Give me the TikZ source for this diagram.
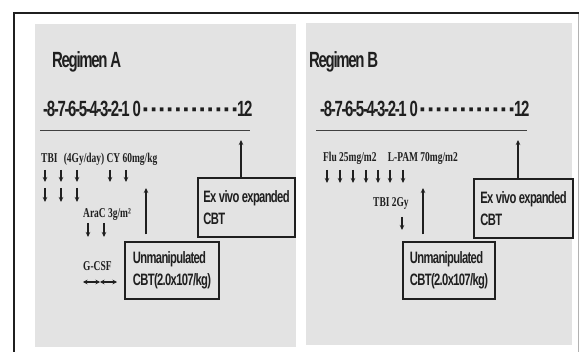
\documentclass[tikz,border=0pt]{standalone}
\usepackage{fontspec}
\usetikzlibrary{arrows.meta}
\newfontfamily\ttlfont[FakeStretch=0.68,LetterSpace=-6]{Liberation Sans Bold}
\newfontfamily\dotfont{Liberation Sans Bold}
\newfontfamily\bxfont[FakeStretch=0.68,LetterSpace=-4]{Liberation Sans Bold}
\newfontfamily\lbfont[FakeStretch=0.7]{Liberation Serif}
\definecolor{panel}{gray}{0.89}
\definecolor{ink}{gray}{0.12}
\begin{document}
\begin{tikzpicture}[x=1pt,y=-1pt,
  ttl/.style={anchor=base west,inner sep=0pt,text=ink,font=\ttlfont\fontsize{22}{24}\selectfont},
  dotrow/.style={anchor=base west,inner sep=0pt,text=ink,font=\dotfont\fontsize{26}{30}\selectfont},
  lab/.style={anchor=base west,inner sep=0pt,text=ink,font=\lbfont\bfseries\fontsize{13.5}{15}\selectfont},
  cbox/.style={draw=ink,line width=1.2pt,align=left,inner sep=0pt,text=ink,font=\bxfont\fontsize{16.5}{22}\selectfont},
  arr/.style={draw=ink,line width=1.1pt,-{Stealth[length=5pt,width=4.5pt]}},
  darr/.style={draw=ink,line width=1.1pt,{Stealth[length=4.5pt,width=4.5pt]}-{Stealth[length=4.5pt,width=4.5pt]}},
  axisline/.style={draw=ink!85,line width=1pt}]
\useasboundingbox (0,0) rectangle (580,352);
\fill[white] (0,0) rectangle (580,352);
% panels
\fill[panel] (35,24) rectangle (296,347);
\fill[panel] (306,23) rectangle (572,345);
% frame
\draw[ink,line width=2pt] (14,352) -- (14,13) -- (579,13);
\draw[gray!60,line width=0.8pt] (578.5,14) -- (578.5,352);

% ---------- Regimen A ----------
\node[ttl] (regA) at (52,68) {Regimen A};
\node[ttl] (numA) at (43,117) {-8-7-6-5-4-3-2-1 0};
\node[dotrow] (dotsA) at (142,119) {\hbox to 97.2pt{\xleaders\hbox to 8.1pt{\hss·\hss}\hfill}};
\node[ttl] (twA) at (237,117) {12};
\draw[axisline] (40,131) -- (250,131);

\node[lab] (tbiA) at (41,163) {TBI\hspace{4pt} (4Gy/day) CY 60mg/kg};
\foreach \x in {45,61,77,110,126} \draw[arr] (\x,170) -- (\x,182);
\foreach \x in {45,61,77} \draw[arr] (\x,188) -- (\x,202);
\node[lab] (araA) at (83,218) {AraC 3g/m²};
\foreach \x in {88,104} \draw[arr] (\x,223) -- (\x,237);
\node[lab] (gcsf) at (83,270) {G-CSF};
\coordinate (g1) at (83,282);
\coordinate (g2) at (100,282);
\coordinate (g3) at (117,282);
\draw[darr] (g1) -- (g2);
\draw[darr] (g2) -- (g3);

\node[cbox,minimum width=94pt,minimum height=57pt] (ubA) at (172,270.5) {Unmanipulated\\CBT(2.0x107/kg)};
\node[cbox,minimum width=97pt,minimum height=59pt] (exA) at (246.5,207.5) {Ex vivo expanded\\CBT};
\coordinate (upA) at (146,188);
\draw[arr,shorten <=7pt] (ubA.north -| upA) -- (upA);
\coordinate (exAtip) at (241,140);
\draw[arr] (exA.north -| exAtip) -- (exAtip);

% ---------- Regimen B ----------
\node[ttl] (regB) at (309,68) {Regimen B};
\node[ttl] (numB) at (320,117) {-8-7-6-5-4-3-2-1 0};
\node[dotrow] (dotsB) at (419,119) {\hbox to 97.2pt{\xleaders\hbox to 8.1pt{\hss·\hss}\hfill}};
\node[ttl] (twB) at (514,117) {12};
\draw[axisline] (316,131) -- (527,131);

\node[lab] (fluB) at (323,162) {Flu 25mg/m2\hspace{9pt} L-PAM 70mg/m2};
\foreach \x in {327,340,353,366,378,390,403} \draw[arr] (\x,170) -- (\x,183);
\node[lab] (tbiB) at (373,207) {TBI 2Gy};
\draw[arr] (402,217) -- (402,230);

\node[cbox,minimum width=92pt,minimum height=57pt] (ubB) at (449,270.5) {Unmanipulated\\CBT(2.0x107/kg)};
\node[cbox,minimum width=99pt,minimum height=59pt] (exB) at (523.5,208.5) {Ex vivo expanded\\CBT};
\coordinate (upB) at (423,188);
\draw[arr,shorten <=7pt] (ubB.north -| upB) -- (upB);
\coordinate (exBtip) at (518,140);
\draw[arr] (exB.north -| exBtip) -- (exBtip);
\end{tikzpicture}
\end{document}
